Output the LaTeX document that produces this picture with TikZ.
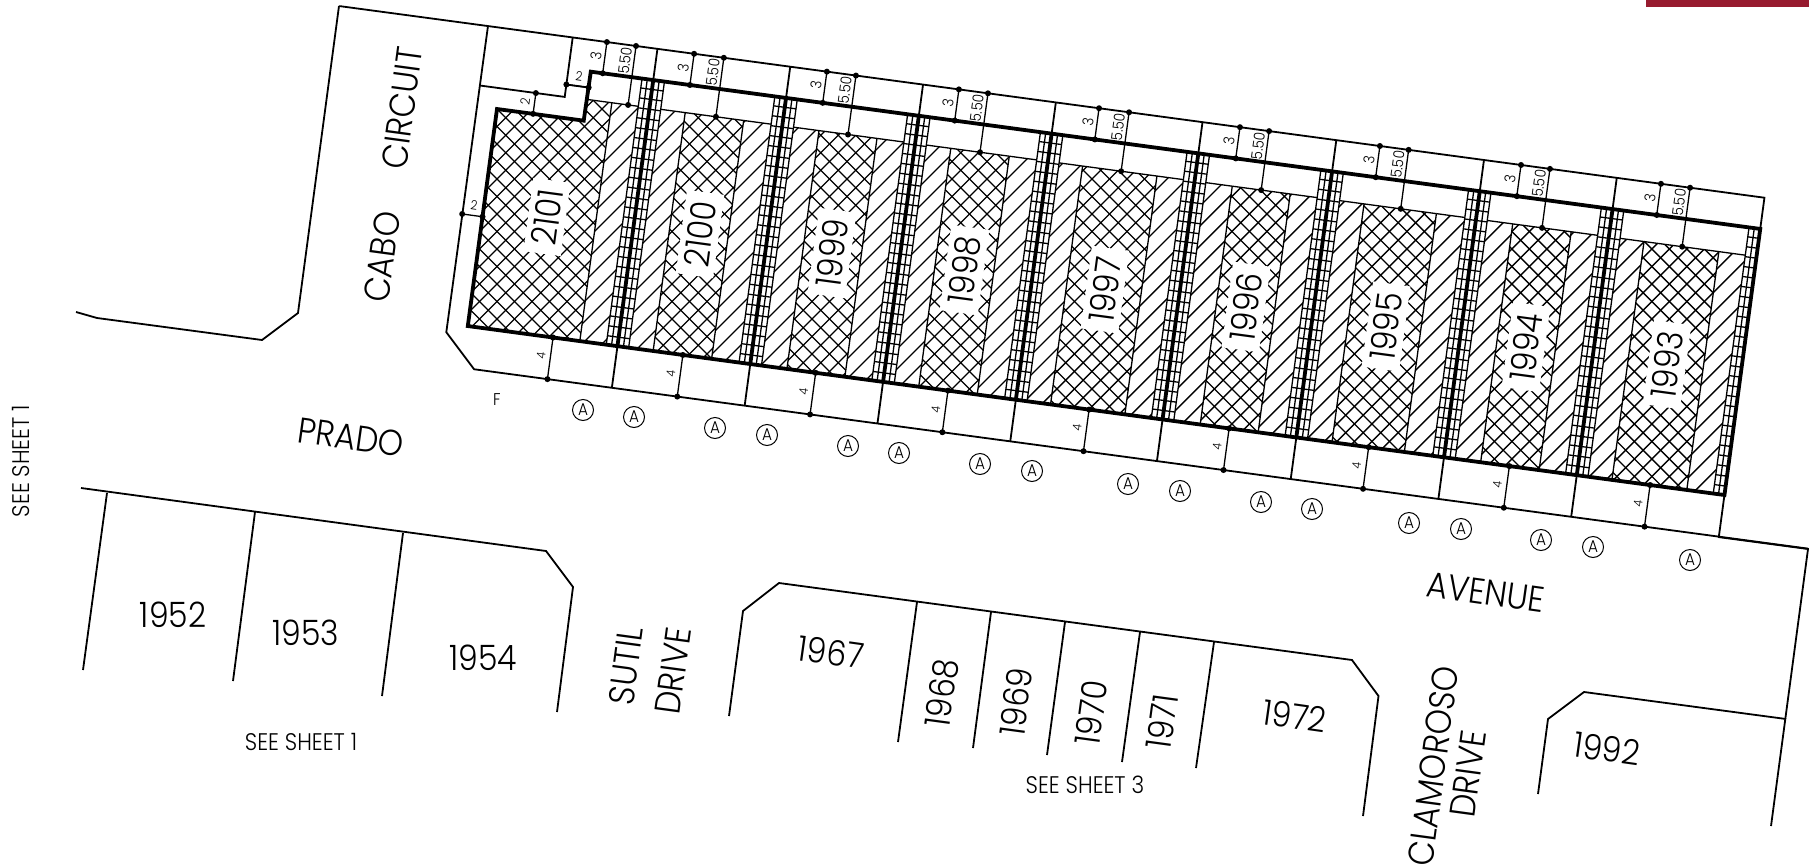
\documentclass[tikz,border=0pt]{standalone}
\usepackage{fontspec}
\setmainfont{Poppins Light}[FakeStretch=0.9]

\tikzset{
    frameline/.style={line width=1.8pt},
    hatchline/.style={line width=1.3pt},
    boldline/.style={line width=3.8pt},
    dimdot/.style={circle,fill=black,inner sep=0pt,minimum size=6pt},
    lotlabel/.style={font=\fontsize{35}{35}\selectfont,inner sep=0pt},
    lotmask/.style={lotlabel,fill=white,inner xsep=9pt,inner ysep=6pt,rotate=82.3},
    roadlabel/.style={font=\fontsize{36}{36}\selectfont,inner sep=0pt},
    sheetlabel/.style={font=\fontsize{24}{24}\selectfont,inner sep=0pt},
    dimlabel/.style={font=\fontsize{15}{15}\selectfont,inner sep=0pt,rotate=82.3},
    circA/.style={circle,draw,line width=1pt,minimum size=21pt,inner sep=0pt,font=\fontsize{17}{17}\selectfont}
}

\newcommand{\dimline}[4]{
    \node[dimdot] (da) at (#1,#2) {};
    \node[dimdot] (db) at (#3,#4) {};
    \draw[hatchline] (da.center) -- (db.center);
}
\newcommand{\hatchzone}[2]{
    \begin{scope}
        \clip (#1,-21.5) rectangle (#2,219);
        \begin{scope}[rotate=7.66]
            \pgfmathsetmacro\cfrom{20*floor((1.1244*(#1)-19)/20)}
            \pgfmathsetmacro\cnext{\cfrom+20}
            \pgfmathsetmacro\cto{1.1244*(#2)+188}
            \foreach \c in {\cfrom,\cnext,...,\cto}
                \draw[hatchline] (\c+100,-100) -- (\c-500,500);
        \end{scope}
    \end{scope}
    \draw[hatchline] (#1,-21.5) -- (#2,-21.5);
}
\newcommand{\crosszone}[2]{
    \begin{scope}
        \clip (#1,-21.5) rectangle (#2,219);
        \begin{scope}[rotate=7.66]
            \pgfmathsetmacro\cfrom{17.5*floor((1.1244*(#1)-19)/17.5)}
            \pgfmathsetmacro\cnext{\cfrom+17.5}
            \pgfmathsetmacro\cto{1.1244*(#2)+188}
            \foreach \c in {\cfrom,\cnext,...,\cto}
                \draw[hatchline] (\c+100,-100) -- (\c-500,500);
            \pgfmathsetmacro\cfrom{17.5*floor((0.8578*(#1)-246)/17.5)}
            \pgfmathsetmacro\cnext{\cfrom+17.5}
            \pgfmathsetmacro\cto{0.8578*(#2)+25}
            \foreach \c in {\cfrom,\cnext,...,\cto}
                \draw[hatchline] (\c-100,-100) -- (\c+500,500);
        \end{scope}
    \end{scope}
    \draw[hatchline] (#1,-21.5) -- (#2,-21.5) (#1,-21.5) -- (#1,219) (#2,-21.5) -- (#2,219);
}
\newcommand{\gridband}[3]{
    \foreach \d in {-11.3,-6,6,11.3} {
        \pgfmathparse{(\d>=#2 && \d<=#3) ? 1 : 0}
        \ifdim\pgfmathresult pt>0.5pt
            \draw[hatchline] (#1+\d,-49.5) -- (#1+\d,219);
        \fi
    }
    \foreach \t in {-40,-30,...,219}
        \draw[hatchline] (#1+#2,\t) -- (#1+#3,\t);
}

\begin{document}
\begin{tikzpicture}[x=1pt,y=-1pt]
\useasboundingbox (0,0) rectangle (1809,867);

\fill[fill={rgb,255:red,151;green,27;blue,47}] (1646,0) rectangle (1809,7);

% row of lots, s along the avenue and t across it
\begin{scope}[shift={(497,109)},rotate=-7.66]
    % lot 2101 has the step in its corner
    \begin{scope}
        \clip (0,0) -- (87.5,0) -- (87.5,-21.5) -- (113,-21.5) -- (113,219) -- (0,219) -- cycle;
        \begin{scope}[rotate=7.66]
            \foreach \c in {-17.5,0,...,330}
                \draw[hatchline] (\c+100,-100) -- (\c-500,500);
            \foreach \c in {-262.5,-245,...,120}
                \draw[hatchline] (\c-100,-100) -- (\c+500,500);
        \end{scope}
    \end{scope}
    \draw[hatchline] (113,-21.5) -- (113,219);
    \hatchzone{113}{139.7}
    \draw[hatchline] (87.5,-21.5) -- (113,-21.5);

    \foreach \wl/\ca/\cb/\wr in {151/187/246/285,285/322/380.5/419,419/455/514/553,553/588/663/701,701/739/797.5/836,836/872/945/985,985/1022/1081/1119,1119/1154.5/1230/1268} {
        \hatchzone{\wl+11.3}{\ca}
        \crosszone{\ca}{\cb}
        \hatchzone{\cb}{\wr-11.3}
    }
    \foreach \w in {151,285,419,553,701,836,985,1119} {
        \gridband{\w}{-11.3}{11.3}
    }
    \gridband{1268}{-11.3}{0}

    % walls between the lots
    \foreach \w in {151,285,419,553,701,836,985,1119} {
        \draw[boldline] (\w,-49.5) -- (\w,219);
        \draw[frameline] (\w,-81) -- (\w,-49.5) (\w,219) -- (\w,261);
    }

    \draw[frameline] (-20,-81) -- (-20.5,228) -- (12,261) -- (1358,261);
    \draw[frameline] (-170,-81) -- (1268,-81) -- (1268,-49.5) (1268,219) -- (1268,261);
    \draw[frameline] (65.5,-81) -- (65.5,-33.5) -- (88,-33.5);
    \draw[frameline] (-20,-21) -- (65.5,-21) -- (65.5,-33.5);
    \draw[boldline,line join=miter] (0,0) -- (87.5,0) -- (88,-49.5) -- (1268,-49.5) -- (1268,219) -- (0,219) -- cycle;

    % dimensions
    \dimline{-20.5}{108.7}{0}{108.7}
    \dimline{36.4}{-21}{36.4}{0}
    \dimline{65.5}{-33.5}{88}{-33.5}
    \foreach \da/\db in {100/129.4,188/218,322/351.3,455.2/484.5,596.6/626.9,738.8/768.2,880/909,1022.4/1051.6,1163.6/1193} {
        \dimline{\da}{-81}{\da}{-49.5}
        \dimline{\db}{-81}{\db}{-21.5}
        \node[dimlabel] (dthree) at (\da-9,-66) {3};
        \node[dimlabel] (dfive) at (\db-9,-65) {5.50};
    }
    \foreach \df in {86,217,351,484.5,626.9,768.2,909,1051,1193} {
        \dimline{\df}{219}{\df}{261}
        \node[dimlabel,font=\fontsize{12}{12}\selectfont] (dfour) at (\df-9.5,239) {4};
    }
    \node[dimlabel,font=\fontsize{13}{13}\selectfont] (dleft) at (27,-11) {2};
    \node[dimlabel,rotate=-90,font=\fontsize{13}{13}\selectfont] (dstep) at (77,-43) {2};
    \node[dimlabel,rotate=-90,font=\fontsize{13}{13}\selectfont] (dside) at (-10,98.5) {2};
\end{scope}

\foreach \n/\x/\y in {2101/547/217,2100/700/234,1999/832/253,1998/964.5/270,1997/1105/289.6,1996/1246/307,1995/1386/326.5,1994/1526/347,1993/1667/364.6}
    \node[lotmask] (lot\n) at (\x,\y) {\n};

% upper left road edge
\draw[frameline] (339,6) -- (298,313) -- (262,340) -- (97,318) -- (76,312);

% road edges and lots across the avenue
\draw[frameline] (81,488) -- (546,551) -- (573,587) -- (557,712);
\draw[frameline] (107,493) -- (83,670) (255,512) -- (233,681) (403,533) -- (382,696);
\draw[frameline] (729,716) -- (743,611) -- (779,583) -- (1352,660) -- (1378.5,696) -- (1363,816);
\foreach \xa/\ya/\xb/\yb in {917/602/898/742,991/612/973/748,1065/622/1047/755,1140/632/1122/762,1214/642/1196/768}
    \draw[frameline] (\xa,\ya) -- (\xb,\yb);
\draw[frameline] (1538,794) -- (1548,719) -- (1584,692) -- (1786,719);
\draw[frameline] (1718,537) -- (1808,549) -- (1771,826);

\foreach \x/\y in {583/410,634/417,715/428,767/435,848/446,899/453,980/464,1032/471,1128/484,1180/491,1261/502,1312/509,1409/523,1461/529,1541/540,1593/547,1690/560}
    \node[circA] (a\x) at (\x,\y) {A};
\node[font=\fontsize{17}{17}\selectfont,inner sep=0pt] (flabel) at (497,400) {F};

\node[roadlabel,rotate=82.3] (cabo) at (382,257) {CABO};
\node[roadlabel,rotate=82.3] (circuit) at (402,108) {CIRCUIT};
\node[roadlabel,rotate=-8] (prado) at (351,437) {PRADO};
\node[roadlabel,rotate=-8] (avenue) at (1486,592) {AVENUE};
\node[roadlabel,rotate=82.3] (sutil) at (626,666) {SUTIL};
\node[roadlabel,rotate=82.3] (drivea) at (673,671) {DRIVE};
\node[roadlabel,rotate=82.3] (clamoroso) at (1433,766) {CLAMOROSO};
\node[roadlabel,rotate=82.3] (driveb) at (1468,774) {DRIVE};

\node[lotlabel] (l1952) at (173,615) {1952};
\node[lotlabel] (l1953) at (306,633) {1953};
\node[lotlabel] (l1954) at (483,658) {1954};
\node[lotlabel,rotate=-8] (l1967) at (831,652) {1967};
\foreach \n/\x/\y in {1968/942/693,1969/1016/702,1970/1091/713,1971/1162/722}
    \node[lotlabel,rotate=82.3] (l\n) at (\x,\y) {\n};
\node[lotlabel,rotate=-8] (l1972) at (1295,716) {1972};
\node[lotlabel,rotate=-8] (l1992) at (1607,749) {1992};

\node[sheetlabel,rotate=90] (sheetl) at (21,461) {SEE SHEET 1};
\node[sheetlabel] (sheetb) at (301,742) {SEE SHEET 1};
\node[sheetlabel] (sheetc) at (1085,785) {SEE SHEET 3};
\end{tikzpicture}
\end{document}
